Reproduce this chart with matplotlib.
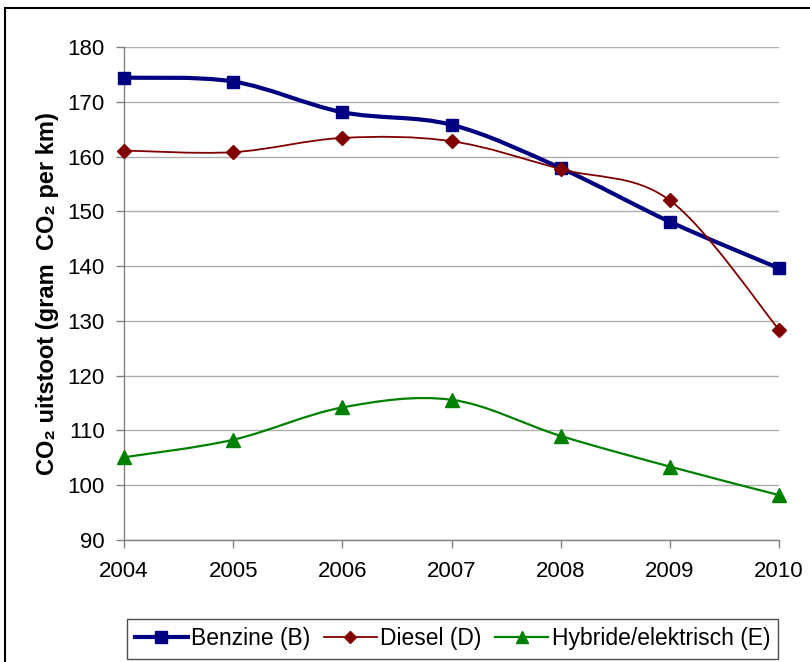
import matplotlib
matplotlib.use("Agg")
import matplotlib.pyplot as plt
from matplotlib.path import Path
from matplotlib.patches import PathPatch, Rectangle
from matplotlib.lines import Line2D
import numpy as np

plt.rcParams['font.family'] = ['Liberation Sans', 'DejaVu Sans']

years = [2004, 2005, 2006, 2007, 2008, 2009, 2010]
benzine = [174.4, 173.7, 168.1, 165.8, 157.9, 148.1, 139.6]
diesel = [161.1, 160.8, 163.4, 162.8, 157.7, 152.0, 128.4]
hybride = [105.1, 108.3, 114.2, 115.6, 109.0, 103.4, 98.2]
labels = ['Benzine (B)', 'Diesel (D)', 'Hybride/elektrisch (E)']
colors = ['#000080', '#800000', '#008000']
markers = ['s', 'D', '^']
msizes = [9, 7, 10]
lwidths = [3.0, 1.3, 1.6]

W, H = 810, 662
fig = plt.figure(figsize=(W/100, H/100), dpi=100)
ax = fig.add_axes([124/W, 1-540/H, (779-124)/W, (540-47)/H])


def smooth_path(x, y):
    P = np.column_stack([x, y]).astype(float)
    n = len(P)
    verts = [P[0]]
    codes = [Path.MOVETO]
    for i in range(n-1):
        p_prev = P[i-1] if i > 0 else P[i]
        p_next2 = P[i+2] if i+2 < n else P[i+1]
        c1 = P[i] + (P[i+1]-p_prev)/6.0
        c2 = P[i+1] - (p_next2-P[i])/6.0
        verts += [c1, c2, P[i+1]]
        codes += [Path.CURVE4]*3
    return Path(verts, codes)


series = [benzine, diesel, hybride]
for vals, c, m, ms, lw in zip(series, colors, markers, msizes, lwidths):
    patch = PathPatch(smooth_path(years, vals), facecolor='none', edgecolor=c,
                      lw=lw, zorder=3, capstyle='round', joinstyle='round')
    ax.add_patch(patch)
    ax.plot(years, vals, linestyle='none', marker=m, ms=ms, color=c,
            markeredgecolor=c, zorder=4, clip_on=False)

ax.set_xlim(2004, 2010)
ax.set_ylim(90, 180)
ax.set_xticks(years)
ax.set_yticks(range(90, 181, 10))
ax.tick_params(axis='both', labelsize=16, colors='#808080', labelcolor='black',
               length=6, width=1, direction='out')
ax.tick_params(axis='x', pad=9)
ax.tick_params(axis='y', pad=8)
ax.yaxis.grid(True, color='#b0b0b0', lw=1)
ax.set_axisbelow(True)
for s in ['top', 'right']:
    ax.spines[s].set_visible(False)
for s in ['left', 'bottom']:
    ax.spines[s].set_color('#808080')
    ax.spines[s].set_linewidth(1)

ax.set_ylabel('CO₂ uitstoot (gram  CO₂ per km)', fontsize=17, fontweight='bold',
              labelpad=6)

handles = [Line2D([], [], color=c, marker=m, ms=ms*0.9, lw=lw)
           for c, m, ms, lw in zip(colors, markers, msizes, lwidths)]
leg = fig.legend(handles, labels, ncol=3, loc='center',
                 bbox_to_anchor=(452.5/W, 1-639/H), fontsize=16.5,
                 frameon=True, fancybox=False, edgecolor='#202020',
                 handlelength=2.3, handletextpad=0.15, columnspacing=0.6,
                 borderpad=0.35)
leg.get_frame().set_linewidth(1)

fig.patches.append(Rectangle((5/W, -0.1), 1.2, 1-8/H+0.1, transform=fig.transFigure,
                             fill=False, edgecolor='black', lw=1.5))

fig.savefig('out.png', dpi=100)
